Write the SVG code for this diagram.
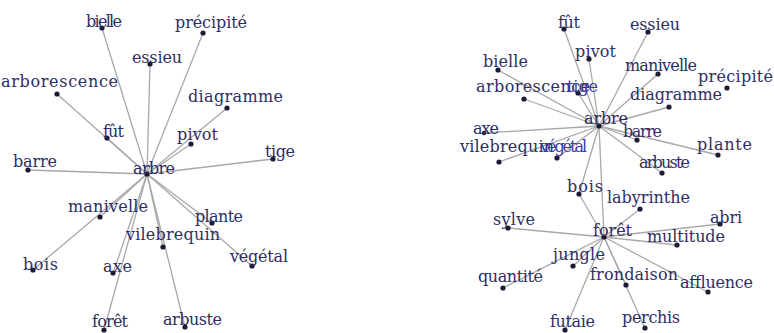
<svg xmlns="http://www.w3.org/2000/svg" width="774" height="333" viewBox="0 0 774 333">
<style>
text{font-family:"DejaVu Serif","Liberation Serif",serif;font-size:16px;fill:#2e2e62;lengthAdjust:spacingAndGlyphs}
.blue{fill:#3a3aa6}
circle{fill:#1c1c36}
#edges line{stroke:#a8a8a8;stroke-width:1.3}
</style>
<rect width="774" height="333" fill="#ffffff"/>
<g id="edges">
<!-- left graph -->
<line x1="147" y1="174" x2="102" y2="28"/>
<line x1="147" y1="174" x2="203" y2="33"/>
<line x1="147" y1="174" x2="150" y2="64"/>
<line x1="147" y1="174" x2="57" y2="94"/>
<line x1="147" y1="174" x2="227" y2="108"/>
<line x1="147" y1="174" x2="107" y2="138"/>
<line x1="147" y1="174" x2="191" y2="144"/>
<line x1="147" y1="174" x2="273" y2="159"/>
<line x1="147" y1="174" x2="28" y2="170"/>
<line x1="147" y1="174" x2="100" y2="217"/>
<line x1="147" y1="174" x2="212" y2="223"/>
<line x1="147" y1="174" x2="163" y2="247"/>
<line x1="147" y1="174" x2="252" y2="266"/>
<line x1="147" y1="174" x2="33" y2="270"/>
<line x1="147" y1="174" x2="113" y2="273"/>
<line x1="147" y1="174" x2="104" y2="330"/>
<line x1="147" y1="174" x2="185" y2="327"/>
<!-- right graph: arbre -->
<line x1="599" y1="126" x2="564" y2="29"/>
<line x1="599" y1="126" x2="648" y2="32"/>
<line x1="599" y1="126" x2="589" y2="59"/>
<line x1="599" y1="126" x2="498" y2="70"/>
<line x1="599" y1="126" x2="658" y2="74"/>
<line x1="599" y1="126" x2="524" y2="99"/>
<line x1="599" y1="126" x2="578" y2="93"/>
<line x1="599" y1="126" x2="669" y2="107"/>
<line x1="599" y1="126" x2="484" y2="133"/>
<line x1="599" y1="126" x2="637" y2="140"/>
<line x1="599" y1="126" x2="499" y2="162"/>
<line x1="599" y1="126" x2="557" y2="158"/>
<line x1="599" y1="126" x2="718" y2="155"/>
<line x1="599" y1="126" x2="662" y2="173"/>
<line x1="599" y1="126" x2="579" y2="194"/>
<line x1="599" y1="126" x2="604" y2="237"/>
<!-- right graph: forêt -->
<line x1="604" y1="237" x2="579" y2="194"/>
<line x1="604" y1="237" x2="640" y2="209"/>
<line x1="604" y1="237" x2="508" y2="228"/>
<line x1="604" y1="237" x2="720" y2="224"/>
<line x1="604" y1="237" x2="677" y2="245"/>
<line x1="604" y1="237" x2="573" y2="266"/>
<line x1="604" y1="237" x2="503" y2="288"/>
<line x1="604" y1="237" x2="626" y2="285"/>
<line x1="604" y1="237" x2="708" y2="292"/>
<line x1="604" y1="237" x2="565" y2="330"/>
<line x1="604" y1="237" x2="645" y2="328"/>
</g>

<!-- left graph nodes -->
<g id="L-arbre"><circle cx="147" cy="174" r="2.6"/><text x="133" y="174" textLength="42">arbre</text></g>
<g id="L-bielle"><circle cx="102" cy="28" r="2.6"/><text x="86" y="27" textLength="36">bielle</text></g>
<g id="L-precipite"><circle cx="203" cy="33" r="2.6"/><text x="175" y="28" textLength="72">précipité</text></g>
<g id="L-essieu"><circle cx="150" cy="64" r="2.6"/><text x="132" y="63" textLength="50">essieu</text></g>
<g id="L-arborescence"><circle cx="57" cy="94" r="2.6"/><text x="1" y="87" textLength="117">arborescence</text></g>
<g id="L-diagramme"><circle cx="227" cy="108" r="2.6"/><text x="188" y="102" textLength="95">diagramme</text></g>
<g id="L-fut"><circle cx="107" cy="138" r="2.6"/><text x="103" y="137" textLength="21">fût</text></g>
<g id="L-pivot"><circle cx="191" cy="144" r="2.6"/><text x="177" y="140" textLength="41">pivot</text></g>
<g id="L-tige"><circle cx="273" cy="159" r="2.6"/><text x="265" y="157" textLength="30">tige</text></g>
<g id="L-barre"><circle cx="28" cy="170" r="2.6"/><text x="13" y="167" textLength="44">barre</text></g>
<g id="L-manivelle"><circle cx="100" cy="217" r="2.6"/><text x="68" y="212" textLength="80">manivelle</text></g>
<g id="L-plante"><circle cx="212" cy="223" r="2.6"/><text x="195" y="222" textLength="48">plante</text></g>
<g id="L-vilebrequin"><circle cx="163" cy="247" r="2.6"/><text x="126" y="240" textLength="94">vilebrequin</text></g>
<g id="L-vegetal"><circle cx="252" cy="266" r="2.6"/><text x="230" y="262" textLength="58">végétal</text></g>
<g id="L-bois"><circle cx="33" cy="270" r="2.6"/><text x="23" y="270" textLength="35">bois</text></g>
<g id="L-axe"><circle cx="113" cy="273" r="2.6"/><text x="103" y="272" textLength="29">axe</text></g>
<g id="L-foret"><circle cx="104" cy="330" r="2.6"/><text x="92" y="327" textLength="36">forêt</text></g>
<g id="L-arbuste"><circle cx="185" cy="327" r="2.6"/><text x="163" y="325" textLength="59">arbuste</text></g>

<!-- right graph nodes -->
<g id="R-arbre"><circle cx="599" cy="126" r="2.6"/><text x="584" y="124" textLength="44">arbre</text></g>
<g id="R-fut"><circle cx="564" cy="29" r="2.6"/><text x="558" y="28" textLength="22">fût</text></g>
<g id="R-essieu"><circle cx="648" cy="32" r="2.6"/><text x="630" y="30" textLength="50">essieu</text></g>
<g id="R-pivot"><circle cx="589" cy="59" r="2.6"/><text x="575" y="57" textLength="41">pivot</text></g>
<g id="R-bielle"><circle cx="498" cy="70" r="2.6"/><text x="483" y="67" textLength="45">bielle</text></g>
<g id="R-manivelle"><circle cx="658" cy="74" r="2.6"/><text x="625" y="71" textLength="72">manivelle</text></g>
<g id="R-precipite"><circle cx="727" cy="88" r="2.6"/><text x="698" y="82" textLength="75">précipité</text></g>
<g id="R-arborescence"><circle cx="524" cy="99" r="2.6"/><text x="476" y="92" textLength="114">arborescence</text></g>
<g id="R-tige"><circle cx="578" cy="93" r="2.6"/><text class="blue" x="567" y="92" textLength="31">tige</text></g>
<g id="R-diagramme"><circle cx="669" cy="107" r="2.6"/><text x="630" y="100" textLength="92">diagramme</text></g>
<g id="R-axe"><circle cx="484" cy="133" r="2.2"/><text x="473" y="134" textLength="26">axe</text></g>
<g id="R-barre"><circle cx="637" cy="140" r="2.6"/><text x="623" y="137" textLength="39">barre</text></g>
<g id="R-vilebrequin"><circle cx="499" cy="162" r="2.6"/><text x="460" y="152" textLength="94">vilebrequin</text></g>
<g id="R-vegetal"><circle cx="557" cy="158" r="2.6"/><text class="blue" x="540" y="152" textLength="47">végétal</text></g>
<g id="R-plante"><circle cx="718" cy="155" r="2.6"/><text x="697" y="150" textLength="55">plante</text></g>
<g id="R-arbuste"><circle cx="662" cy="173" r="2.6"/><text x="639" y="168" textLength="51">arbuste</text></g>
<g id="R-bois"><circle cx="579" cy="194" r="2.6"/><text x="567" y="192" textLength="36">bois</text></g>
<g id="R-labyrinthe"><circle cx="640" cy="209" r="2.6"/><text x="607" y="203" textLength="83">labyrinthe</text></g>
<g id="R-sylve"><circle cx="508" cy="228" r="2.6"/><text x="493" y="225" textLength="42">sylve</text></g>
<g id="R-abri"><circle cx="720" cy="224" r="2.6"/><text x="710" y="223" textLength="32">abri</text></g>
<g id="R-foret"><circle cx="604" cy="237" r="2.6"/><text x="593" y="236" textLength="39">forêt</text></g>
<g id="R-multitude"><circle cx="677" cy="245" r="2.6"/><text x="647" y="242" textLength="78">multitude</text></g>
<g id="R-jungle"><circle cx="573" cy="266" r="2.6"/><text x="553" y="260" textLength="52">jungle</text></g>
<g id="R-quantite"><circle cx="503" cy="288" r="2.6"/><text x="478" y="282" textLength="65">quantité</text></g>
<g id="R-frondaison"><circle cx="626" cy="285" r="2.6"/><text x="590" y="280" textLength="88">frondaison</text></g>
<g id="R-affluence"><circle cx="708" cy="292" r="2.6"/><text x="680" y="288" textLength="73">affluence</text></g>
<g id="R-futaie"><circle cx="565" cy="330" r="2.6"/><text x="550" y="327" textLength="45">futaie</text></g>
<g id="R-perchis"><circle cx="645" cy="328" r="2.6"/><text x="622" y="323" textLength="58">perchis</text></g>
</svg>
